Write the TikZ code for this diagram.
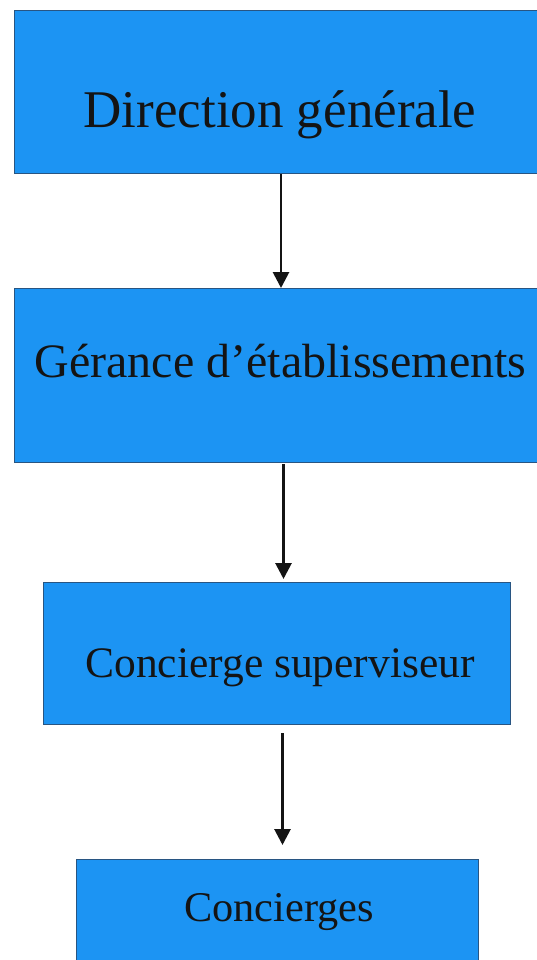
\documentclass[tikz,border=0pt]{standalone}
\usepackage{fontspec}
\setmainfont{Liberation Serif}
\usetikzlibrary{arrows.meta,calc}
\definecolor{boxblue}{RGB}{28,148,243}
\definecolor{boxedge}{RGB}{40,85,130}
\definecolor{ink}{RGB}{20,20,20}
\tikzset{
  orgbox/.style={rectangle, fill=boxblue, draw=boxedge, line width=1.3pt, anchor=north west, inner sep=0pt},
  orgtext/.style={anchor=base, inner sep=0pt, text=ink},
  arr/.style={draw=ink, line width=2.8pt, -{Triangle[width=16pt,length=16pt]}}
}
\begin{document}
\begin{tikzpicture}[x=1pt,y=-1pt]
\useasboundingbox (0,0) rectangle (537,960);
\clip (0,0) rectangle (537,960);
\fill[white] (0,0) rectangle (537,960);
\node[orgbox, minimum width=540pt, minimum height=163pt] (b1) at (13.7,10) {};
\node[orgbox, minimum width=540pt, minimum height=174pt] (b2) at (13.7,288) {};
\node[orgbox, minimum width=467pt, minimum height=142pt] (b3) at (43,582) {};
\node[orgbox, minimum width=402pt, minimum height=120pt] (b4) at (75.5,859) {};
\node[orgtext, font=\fontsize{53}{60}\selectfont] (t1) at (280,128) {Direction générale};
\node[orgtext, font=\fontsize{48}{56}\selectfont] (t2) at (280.5,377) {Gérance d’établissements};
\node[orgtext, font=\fontsize{43.5}{50}\selectfont] (t3) at (280,677) {Concierge superviseur};
\node[orgtext, font=\fontsize{42.3}{50}\selectfont] (t4) at (279,921) {Concierges};
\draw[arr] ($(b1.south -| t1.base)+(1,0)$) -- ($(b2.north -| t1.base)+(1,0)$);
\draw[arr, shorten <=1pt, shorten >=3pt] ($(b2.south -| t2.base)+(3,0)$) -- ($(b3.north -| t2.base)+(3,0)$);
\draw[arr, shorten <=8pt, shorten >=14pt] ($(b3.south -| t3.base)+(2.5,0)$) -- ($(b4.north -| t3.base)+(2.5,0)$);
\end{tikzpicture}
\end{document}
